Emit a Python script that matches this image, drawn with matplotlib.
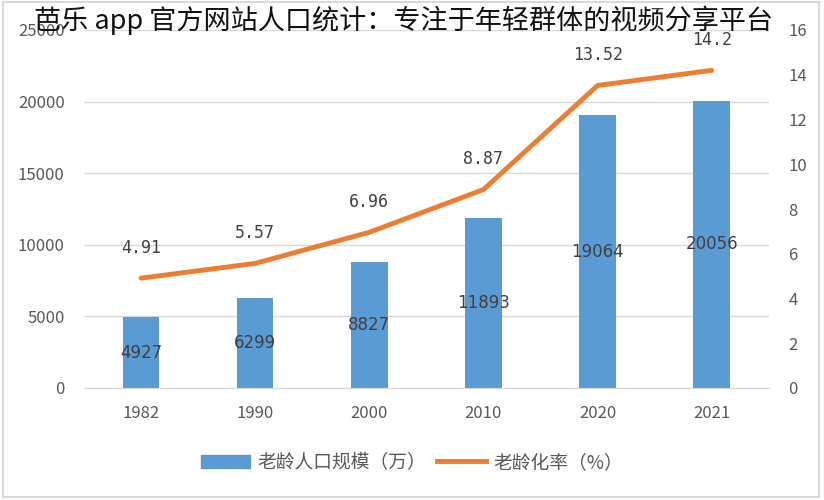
import matplotlib
matplotlib.use("Agg")
import matplotlib.pyplot as plt
from matplotlib.patches import Rectangle
from matplotlib.lines import Line2D

plt.rcParams['font.family'] = ['Noto Sans CJK SC', 'DejaVu Sans']

years = ['1982', '1990', '2000', '2010', '2020', '2021']
population = [4927, 6299, 8827, 11893, 19064, 20056]
rate = [4.91, 5.57, 6.96, 8.87, 13.52, 14.2]
rate_labels = ['4.91', '5.57', '6.96', '8.87', '13.52', '14.2']

bar_color = '#5B9BD5'
line_color = '#ED7D31'
tick_color = '#595959'

fig = plt.figure(figsize=(8.24, 5), dpi=100)
ax = fig.add_axes([0.102, 0.224, 0.831, 0.716])
ax2 = ax.twinx()

x = list(range(len(years)))
ax.bar(x, population, width=0.32, color=bar_color, zorder=2)
for xi, v in zip(x, population):
    ax.text(xi, v / 2, str(v), ha='center', va='center', fontsize=12,
            color='#404040', family=['DejaVu Sans'], zorder=3)

ax.set_xlim(-0.5, len(years) - 0.5)
ax.set_ylim(0, 25000)
ax.set_yticks(range(0, 25001, 5000))
ax.set_xticks(x)
ax.set_xticklabels(years)
ax.grid(axis='y', color='#D9D9D9', linewidth=1, zorder=0)
ax.set_axisbelow(True)
for s in ['top', 'left', 'right']:
    ax.spines[s].set_visible(False)
ax.spines['bottom'].set_color('#D9D9D9')
ax.tick_params(axis='both', length=0, colors=tick_color, labelsize=12)
ax.tick_params(axis='x', pad=12)
ax.tick_params(axis='y', pad=14)

ax2.plot(x, rate, color=line_color, linewidth=3.5, solid_capstyle='round', zorder=4)
for xi, v, lab in zip(x, rate, rate_labels):
    ax2.annotate(lab, (xi, v), xytext=(0, 22), textcoords='offset points',
                 ha='center', va='center', fontsize=12, color='#404040',
                 family=['DejaVu Sans Mono'])
ax2.set_ylim(0, 16)
ax2.set_yticks(range(0, 17, 2))
for s in ['top', 'left', 'right', 'bottom']:
    ax2.spines[s].set_visible(False)
ax2.tick_params(axis='y', length=0, colors=tick_color, labelsize=12, pad=14)

handles = [Rectangle((0, 0), 1, 1, color=bar_color),
           Line2D([0], [0], color=line_color, linewidth=3.5)]
fig.legend(handles, ['老龄人口规模（万）', '老龄化率（%）'], loc='center',
           bbox_to_anchor=(0.5, 0.075), ncol=2, frameon=False, fontsize=13.5,
           labelcolor=tick_color, handlelength=2.6, columnspacing=0.6, handletextpad=0.4)

fig.text(0.49, 0.96, '芭乐 app 官方网站人口统计：专注于年轻群体的视频分享平台',
         ha='center', va='center', fontsize=19.5, color='#111111')

fig.patches.append(Rectangle((0.004, 0.006), 0.99, 0.99, transform=fig.transFigure,
                             fill=False, edgecolor='#D9D9D9', linewidth=1.5))

fig.savefig('out.png', dpi=100)
